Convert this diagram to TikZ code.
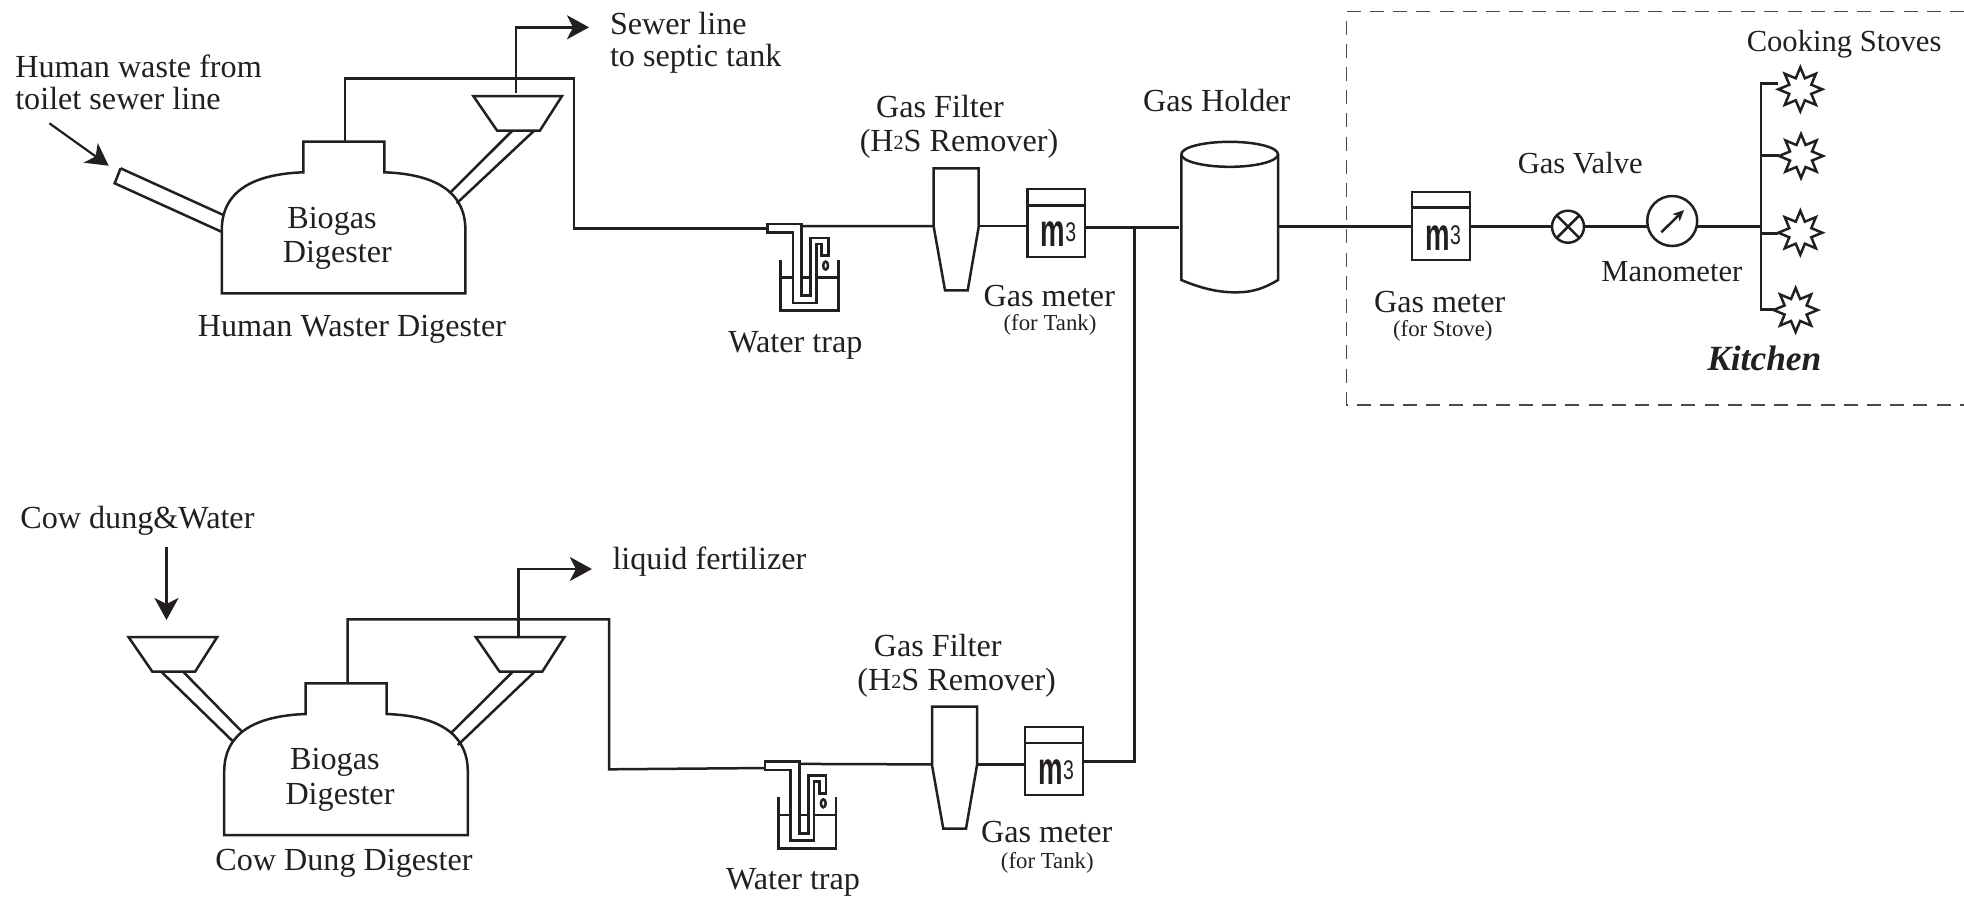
\documentclass[tikz,border=0pt]{standalone}
\usepackage{fontspec}
\setmainfont{Liberation Serif}
\newfontfamily\metfont{Liberation Sans}
\usetikzlibrary{arrows.meta,shapes.geometric}
\definecolor{ink}{HTML}{231F20}
\definecolor{dashink}{HTML}{4A4849}
\newcommand{\mthree}{{\metfont\scalebox{.6}[1]{\fontsize{23}{23}\selectfont\bfseries m}\scalebox{.72}[1]{\fontsize{13.5}{13.5}\selectfont\raisebox{2.8pt}{3}}}}
\tikzset{
  lab/.style={inner sep=0pt,outer sep=0pt,anchor=base,yshift=-.6pt,font=\fontsize{16.08}{19}\selectfont},
  labw/.style={lab,anchor=base west},
  labk/.style={lab,font=\fontsize{15.3}{18}\selectfont},
  labs/.style={lab,font=\fontsize{11.4}{13}\selectfont},
  labb/.style={lab,font=\fontsize{17.7}{20}\selectfont\bfseries\itshape},
  meterbox/.style={draw,rectangle,minimum width=28.8pt,minimum height=34pt,inner sep=0pt,outer sep=0pt},
  mlabel/.style={inner sep=0pt,outer sep=0pt,anchor=base},
  valvebox/.style={draw,circle,minimum size=16pt,inner sep=0pt,outer sep=0pt},
  manobox/.style={draw,circle,minimum size=25pt,inner sep=0pt,outer sep=0pt},
  stovebox/.style={draw,fill=white,star,star points=8,star point ratio=1.85,minimum size=22pt,inner sep=0pt,outer sep=0pt},
  arrowline/.style={-{Stealth[length=11pt,width=12pt,inset=3pt]}},
  thinarrow/.style={-{Stealth[length=5.5pt,width=5pt,inset=1.4pt]}},
  pics/filter/.style={code={
    \draw (0,0) -- (45,0) -- (45,58.4) -- (34,122) -- (11.3,122) -- (0,58.4) -- cycle;
    \coordinate (-L) at (0,57.7);
    \coordinate (-R) at (45,57.7);
  }},
  pics/funnel/.style={code={
    \draw (0,0) -- (88.7,0) -- (66.6,34.6) -- (23.8,34.6) -- cycle;
    \coordinate (-top) at (42.7,0);
  }},
  pics/trap/.style={code={
    \draw (0,0) -- (34.3,0) -- (34.3,71.6) -- (43.3,71.6) -- (43.3,14) -- (61,14) -- (61,31.6) -- (54.3,31.6) -- (54.3,20) -- (49,20) -- (49,79) -- (25.7,79) -- (25.7,8.3) -- (0,8.3) -- cycle;
    \draw (13.3,35.6) -- (13.3,86.6) -- (71,86.6) -- (71,35.6);
    \draw (13.3,53.3) -- (25.7,53.3) (34.3,53.3) -- (43.3,53.3) (49,53.3) -- (71,53.3);
    \draw (58.3,41.6) ellipse [x radius=2.4,y radius=4];
    \coordinate (-out) at (34.3,2.2);
    \coordinate (-in) at (0,4.2);
  }},
  pics/digester/.style={code={
    \draw (0,-63.3) .. controls (0,-103.3) and (33.2,-119.3) .. (81.5,-121) -- (81.5,-151.6) -- (162.5,-151.6) -- (162.5,-121)
      .. controls (210.8,-119.3) and (243.6,-103.3) .. (243.6,-63.3) -- (243.6,0) -- (0,0) -- cycle;
    \coordinate (-top) at (123.4,-151.6);
  }}
}
\begin{document}
\begin{tikzpicture}[x=.5pt,y=-.5pt,line width=1.25pt,color=ink,line join=miter]
\useasboundingbox (0,0) rectangle (1964,896);

% kitchen frame
\draw[dashink,line width=.75pt,dash pattern=on 7pt off 4.6pt] (1964,11.7) -- (1346.5,11.7) -- (1346.5,405) -- (1964,405);

% digesters
\pic (d1) at (221.8,293.3) {digester};
\pic (d2) at (224.2,835) {digester};

% funnels
\pic (fa) at (473.3,96) {funnel};
\pic (fb) at (128.5,637) {funnel};
\pic (fc) at (475.7,637) {funnel};

% feed and overflow pipes
\draw (120.6,168.3) -- (114.7,183.3) -- (221.4,231.7);
\draw (120.6,168.3) -- (223.4,215);
\draw (512,131) -- (449.6,193.3);
\draw (533.8,131) -- (456.7,203.3);
\draw (162.1,672.5) -- (233.3,741.7);
\draw (183.9,672.5) -- (242,731.7);
\draw (512,672.5) -- (450.8,733.3);
\draw (533.8,672.5) -- (457.9,745);

% water traps, filters
\pic (t1) at (767.3,224) {trap};
\pic (t2) at (765,761.7) {trap};
\pic (g1) at (933.7,168.3) {filter};
\pic (g2) at (932,706.7) {filter};

% meters
\node[meterbox] (m1) at (1056.2,223) {};
\node[meterbox] (m2) at (1054,761) {};
\node[meterbox] (m3) at (1441,226) {};
\draw (m1.west |- 0,205.3) -- (m1.east |- 0,205.3);
\draw (m2.west |- 0,743) -- (m2.east |- 0,743);
\draw (m3.west |- 0,207.7) -- (m3.east |- 0,207.7);
\node[mlabel] (m1t) at (1058.5,246.7) {\mthree};
\node[mlabel] (m2t) at (1056.3,784.7) {\mthree};
\node[mlabel] (m3t) at (1443.3,250) {\mthree};

% holder
\draw (1181.3,154.3) arc [start angle=180,end angle=540,x radius=48.35,y radius=12.5];
\draw (1181.3,154.3) -- (1181.3,280) .. controls (1205,290) and (1222,292.5) .. (1236.7,292.3) .. controls (1252,292.5) and (1265,288) .. (1278,280) -- (1278,154.3);
\coordinate (hL) at (1178.7,227.7);
\coordinate (hR) at (1279.3,226.7);

% valve, manometer, stoves
\node[valvebox] (valve) at (1568,226.7) {};
\draw (valve.45) -- (valve.225) (valve.135) -- (valve.315);
\node[manobox] (mano) at (1672.2,221) {};
\coordinate (ma) at (1661.3,232.3);
\coordinate (mb) at (1684,210);
\draw[thinarrow] (ma) -- (mb);
\node[stovebox] (s1) at (1800.3,89.3) {};
\node[stovebox] (s2) at (1801,156) {};
\node[stovebox] (s3) at (1800.3,232.7) {};
\node[stovebox] (s4) at (1795.6,310) {};

% gas lines, upper
\coordinate (c1a) at (574.1,78.3);
\coordinate (c1b) at (574.1,228.3);
\draw (d1-top) |- (c1a) -- (c1b) -- (t1-in |- c1b);
\draw (t1-out) -- (g1-L);
\draw (g1-R) -- (g1-R -| m1.west);
\coordinate (j1) at (1134.7,227.7);
\coordinate (j2) at (1134.7,761.3);
\draw (hL -| m1.east) -- (hL);
\draw (j1) -- (j2) -- (j2 -| m2.east);

% gas lines, lower
\coordinate (c2a) at (609,619.3);
\coordinate (c2b) at (609,769.3);
\coordinate (c2c) at (765,768);
\draw (d2-top) |- (c2a) -- (c2b) -- (c2c);
\draw (t2-out) -- (g2-L);
\draw (g2-R) -- (g2-R -| m2.west);

% gas lines, kitchen
\draw (hR) -- (hR -| m3.west);
\draw (m3.east |- valve.west) -- (valve.west);
\draw (valve.east) -- (mano.west |- valve.east);
\coordinate (b0) at (1761,226.7);
\coordinate (b1) at (1761,83.3);
\coordinate (b2) at (1761,155.7);
\coordinate (b3) at (1761,233.3);
\coordinate (b4) at (1761,309.3);
\draw (mano.east |- b0) -- (b0);
\draw (s1.west |- b1) -- (b1) -- (b4) -- (s4.west |- b4);
\draw (b2) -- (s2.west |- b2);
\draw (b3) -- (s3.west |- b3);

% flow arrows
\coordinate (ia) at (49.4,123.3);
\coordinate (ib) at (108.7,165.7);
\draw[arrowline,line width=1.1pt] (ia) -- (ib);
\coordinate (ic) at (166.5,547.3);
\coordinate (id) at (166.5,620);
\draw[arrowline,line width=1.1pt] (ic) -- (id);
\coordinate (oa) at (516,93.3);
\coordinate (ob) at (589,27.3);
\draw[arrowline] (oa) |- (ob);
\coordinate (oc) at (fc-top);
\coordinate (od) at (591.9,569);
\draw[arrowline] (oc) |- (od);

% labels
\node[labw] (t01) at (15.3,76.7) {Human waste from};
\node[labw] (t02) at (15.3,108.3) {toilet sewer line};
\node[labw] (t03) at (610,33) {Sewer line};
\node[labw] (t04) at (610,65) {to septic tank};
\node[lab] (t05) at (332,227.3) {Biogas};
\node[lab] (t06) at (337.3,261.7) {Digester};
\node[lab] (t07) at (351.9,335) {Human Waster Digester};
\node[lab] (t08) at (795.4,351) {Water trap};
\node[lab] (t09) at (940,116.7) {Gas Filter};
\node[lab] (t10) at (959,150) {(H{\fontsize{10}{10}\selectfont\raisebox{.8pt}{2}}S Remover)};
\node[lab] (t11) at (1049.3,305) {Gas meter};
\node[labs] (t12) at (1050,329) {(for Tank)};
\node[lab] (t13) at (1216.7,110) {Gas Holder};
\node[labk] (t14) at (1844.1,50) {Cooking Stoves};
\node[labk] (t15) at (1580.2,172.7) {Gas Valve};
\node[labk] (t16) at (1671.8,280) {Manometer};
\node[lab] (t17) at (1439.7,311) {Gas meter};
\node[labs] (t18) at (1442.8,335) {(for Stove)};
\node[labb] (t19) at (1764.3,369) {Kitchen};
\node[lab] (t20) at (137.4,527.3) {Cow dung\&Water};
\node[labw] (t21) at (612.5,568) {liquid fertilizer};
\node[lab] (t22) at (334.9,768.3) {Biogas};
\node[lab] (t23) at (340,803.3) {Digester};
\node[lab] (t24) at (344,869) {Cow Dung Digester};
\node[lab] (t25) at (793,888) {Water trap};
\node[lab] (t26) at (937.7,655.7) {Gas Filter};
\node[lab] (t27) at (956.7,689.3) {(H{\fontsize{10}{10}\selectfont\raisebox{.8pt}{2}}S Remover)};
\node[lab] (t28) at (1046.7,841.7) {Gas meter};
\node[labs] (t29) at (1047.3,867.7) {(for Tank)};
\end{tikzpicture}
\end{document}
